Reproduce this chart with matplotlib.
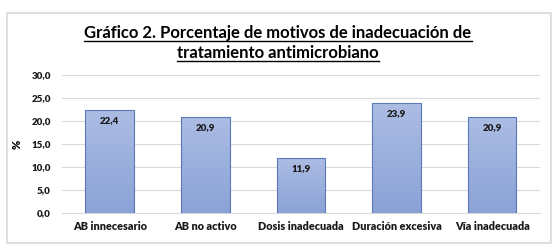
import numpy as np
import matplotlib.pyplot as plt
from matplotlib.patches import Rectangle
from matplotlib.colors import LinearSegmentedColormap

plt.rcParams['font.family'] = ['Lato', 'DejaVu Sans']

categories = ["AB innecesario", "AB no activo", "Dosis inadecuada", "Duración excesiva", "Vía inadecuada"]
values = [22.4, 20.9, 11.9, 23.9, 20.9]
yticks = [0, 5, 10, 15, 20, 25, 30]

fig = plt.figure(figsize=(5.56, 2.5), dpi=100)
fig.patch.set_facecolor("white")

# outer frame of the chart
frame = Rectangle((0.013, 0.03), 0.978, 0.918, transform=fig.transFigure,
                  facecolor="white", edgecolor="#d9d9d9", linewidth=1.2, zorder=-1)
fig.patches.append(frame)

ax = fig.add_axes([0.1115, 0.148, 0.8595, 0.552])
ax.set_facecolor("none")
x = np.arange(len(categories))
bars = ax.bar(x, values, width=0.51, color="#9cb0dd", edgecolor="#5b79b8",
              linewidth=0.8, zorder=3)

# vertical gradient on each bar
grad = np.linspace(0, 1, 100).reshape(-1, 1)
cmap = LinearSegmentedColormap.from_list("g", ["#8aa2d6", "#acbde4"])
for b in bars:
    x0, y0 = b.get_x(), b.get_y()
    w, h = b.get_width(), b.get_height()
    im = ax.imshow(grad, extent=(x0, x0 + w, y0, y0 + h), origin="lower",
                   cmap=cmap, aspect="auto", zorder=3)
    im.set_clip_path(b)
    b.set_facecolor("none")
    b.set_zorder(3.5)

for xi, v in zip(x, values):
    ax.text(xi, v - 1.3, f"{v:.1f}".replace(".", ","), ha="center", va="top",
            fontsize=7, fontweight="heavy", color="#1a1a1a", zorder=4)

ax.set_xlim(-0.5, len(categories) - 0.5)
ax.set_ylim(0, 30)
ax.set_yticks(yticks)
ax.set_yticklabels([f"{t:.1f}".replace(".", ",") for t in yticks],
                   fontsize=7, fontweight="heavy")
ax.set_xticks(x)
ax.set_xticklabels(categories, fontsize=7.8, fontweight="heavy")
ax.tick_params(axis="both", length=0, colors="#1a1a1a")
ax.tick_params(axis="y", pad=8)
ax.tick_params(axis="x", pad=6)
ax.grid(axis="y", color="#d9d9d9", linewidth=0.8, zorder=0)
for s in ["top", "right", "left"]:
    ax.spines[s].set_visible(False)
ax.spines["bottom"].set_color("#d9d9d9")
ax.set_ylabel("%", fontsize=8, fontweight="heavy", labelpad=6)

# title with underline
t1 = fig.text(0.5, 0.848, "Gráfico 2. Porcentaje de motivos de inadecuación de",
              ha="center", va="baseline", fontsize=12, fontweight="bold")
t2 = fig.text(0.5, 0.768, "tratamiento antimicrobiano",
              ha="center", va="baseline", fontsize=12, fontweight="bold")
fig.canvas.draw()
r = fig.canvas.get_renderer()
for t in (t1, t2):
    bb = t.get_window_extent(r).transformed(fig.transFigure.inverted())
    yb = t.get_position()[1] - 0.012
    fig.add_artist(plt.Line2D([bb.x0, bb.x1], [yb, yb], transform=fig.transFigure,
                              color="black", linewidth=1))

plt.savefig("out.png", dpi=100)
